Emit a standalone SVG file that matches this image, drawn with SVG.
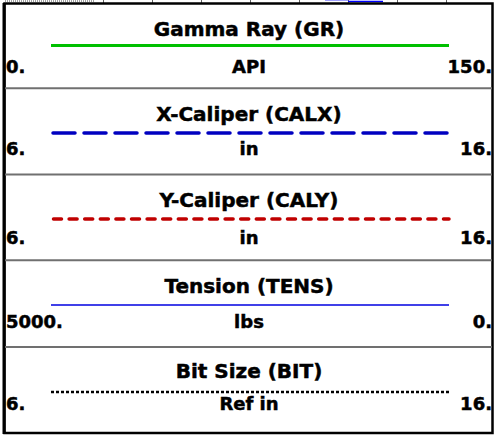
<svg xmlns="http://www.w3.org/2000/svg" width="495" height="435" viewBox="0 0 495 435">
<style>
text{font-family:"DejaVu Sans","Liberation Sans",sans-serif;font-weight:bold;fill:#000;stroke:#000;stroke-width:0.5}
.t{font-size:20px;text-anchor:middle}
.u{font-size:18px;text-anchor:middle}
.l{font-size:18px;text-anchor:start}
.r{font-size:18px;text-anchor:end}
.sep{stroke:#707070;stroke-width:2}
.grid{stroke:#606060;stroke-width:1}
.curve{fill:none}
</style>
<rect x="0" y="0" width="495" height="435" fill="#fff"/>
<g id="top-strip">
<line x1="5" y1="1" x2="95" y2="1" stroke="#404040" stroke-width="1" stroke-dasharray="1 1"/>
<g class="grid">
<line x1="103.5" y1="0" x2="103.5" y2="3"/><line x1="152.5" y1="0" x2="152.5" y2="3"/><line x1="201.5" y1="0" x2="201.5" y2="3"/><line x1="250.5" y1="0" x2="250.5" y2="3"/><line x1="299.5" y1="0" x2="299.5" y2="3"/><line x1="348.5" y1="0" x2="348.5" y2="3"/><line x1="397.5" y1="0" x2="397.5" y2="3"/><line x1="446.5" y1="0" x2="446.5" y2="3"/>
</g>
<line x1="325" y1="0.5" x2="348" y2="0.5" stroke="#a0a0ff" stroke-width="1"/>
<line x1="348" y1="1.5" x2="383" y2="1.5" stroke="#0000ff" stroke-width="1.5"/>
</g>
<g id="frame">
<rect x="4.5" y="3.5" width="488" height="429.5" fill="none" stroke="#000" stroke-width="2.5"/>
<line x1="4" y1="3" x2="4" y2="434" stroke="#000" stroke-width="3"/>
<line class="sep" x1="5" y1="88.3" x2="492" y2="88.3"/>
<line class="sep" x1="5" y1="174.6" x2="492" y2="174.6"/>
<line class="sep" x1="5" y1="260.3" x2="492" y2="260.3"/>
<line class="sep" x1="5" y1="347" x2="492" y2="347"/>
</g>
<g id="track-gr">
<text class="t" x="249" y="35.5">Gamma Ray (GR)</text>
<line class="curve" x1="51" y1="45.5" x2="449" y2="45.5" stroke="#00c000" stroke-width="3"/>
<text class="l" x="6" y="72.7">0.</text>
<text class="u" x="249" y="72.7">API</text>
<text class="r" x="492" y="72.7">150.</text>
</g>
<g id="track-calx">
<text class="t" x="249" y="120.7">X-Caliper (CALX)</text>
<line class="curve" x1="53" y1="133" x2="449" y2="133" stroke="#0000c0" stroke-width="3.5" stroke-linecap="round" stroke-dasharray="22 9"/>
<text class="l" x="6" y="155">6.</text>
<text class="u" x="249" y="155">in</text>
<text class="r" x="492" y="155">16.</text>
</g>
<g id="track-caly">
<text class="t" x="249" y="206.7">Y-Caliper (CALY)</text>
<line class="curve" x1="53.5" y1="219" x2="449" y2="219" stroke="#c00000" stroke-width="3.5" stroke-linecap="round" stroke-dasharray="8 7.6"/>
<text class="l" x="6" y="244">6.</text>
<text class="u" x="249" y="244">in</text>
<text class="r" x="492" y="244">16.</text>
</g>
<g id="track-tens">
<text class="t" x="249" y="293">Tension (TENS)</text>
<line class="curve" x1="51" y1="305" x2="449" y2="305" stroke="#0000e0" stroke-width="1.5"/>
<text class="l" x="6" y="328.3">5000.</text>
<text class="u" x="249" y="328.3">lbs</text>
<text class="r" x="492" y="328.3">0.</text>
</g>
<g id="track-bit">
<text class="t" x="249" y="378">Bit Size (BIT)</text>
<line class="curve" x1="51" y1="392" x2="449" y2="392" stroke="#000" stroke-width="2.5" stroke-dasharray="3 2"/>
<text class="l" x="6" y="410">6.</text>
<text class="u" x="249" y="410">Ref in</text>
<text class="r" x="492" y="410">16.</text>
</g>
</svg>
